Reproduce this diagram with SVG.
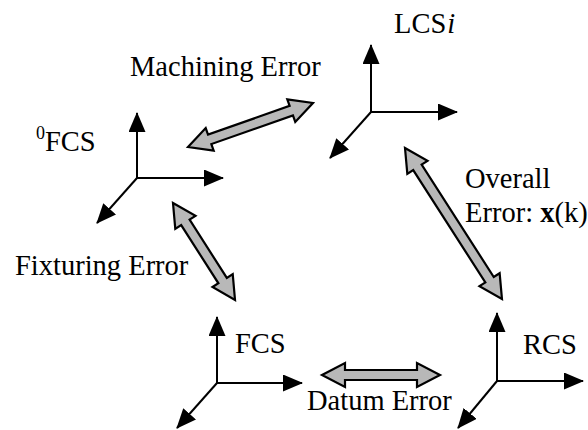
<svg xmlns="http://www.w3.org/2000/svg" width="588" height="430" viewBox="0 0 588 430">
<style>
text{font-family:"Liberation Serif","Times New Roman",serif;font-size:28.5px;fill:#000}
.ax{stroke:#000;stroke-width:2;fill:none;marker-end:url(#ah)}
.da{fill:#b8b8b8;stroke:#000;stroke-width:2.2;stroke-linejoin:miter}
</style>
<defs>
<marker id="ah" markerUnits="userSpaceOnUse" markerWidth="20" markerHeight="17" refX="19" refY="8.5" orient="auto" viewBox="0 0 20 17">
<path d="M0,0 L20,8.5 L0,17 Z" fill="#000"/>
</marker>
</defs>
<g id="fcs0">
<path class="ax" d="M137,178 L137,113"/>
<path class="ax" d="M137,178 L223,178"/>
<path class="ax" d="M137,178 L97,223"/>
<text x="36" y="151"><tspan font-size="18" dy="-12">0</tspan><tspan dy="12">FCS</tspan></text>
</g>
<g id="lcs">
<path class="ax" d="M371,112 L371,45"/>
<path class="ax" d="M371,112 L457,112"/>
<path class="ax" d="M371,112 L330,158"/>
<text x="394" y="33">LCS<tspan font-style="italic" dx="1">i</tspan></text>
</g>
<g id="fcs">
<path class="ax" d="M217,383 L217,317"/>
<path class="ax" d="M217,383 L302,383"/>
<path class="ax" d="M217,383 L177,428"/>
<text x="235" y="353">FCS</text>
</g>
<g id="rcs">
<path class="ax" d="M497,381 L497,313"/>
<path class="ax" d="M497,381 L583,381"/>
<path class="ax" d="M497,381 L458,428"/>
<text x="523" y="354">RCS</text>
</g>
<g id="connectors">
<path class="da" transform="translate(188,147) rotate(-19.4)" d="M0,0 L23,-12 L23,-5 L109.5,-5 L109.5,-12 L132.5,0 L109.5,12 L109.5,5 L23,5 L23,12 Z"/>
<path class="da" transform="translate(173,203) rotate(57.4)" d="M0,0 L23,-12 L23,-5 L92.1,-5 L92.1,-12 L115.1,0 L92.1,12 L92.1,5 L23,5 L23,12 Z"/>
<path class="da" transform="translate(405,148) rotate(57.3)" d="M0,0 L23,-12 L23,-5 L156.5,-5 L156.5,-12 L179.5,0 L156.5,12 L156.5,5 L23,5 L23,12 Z"/>
<path class="da" transform="translate(322,375)" d="M0,0 L23,-12 L23,-5 L95,-5 L95,-12 L118,0 L95,12 L95,5 L23,5 L23,12 Z"/>
<text x="130" y="76">Machining Error</text>
<text x="15" y="275">Fixturing Error</text>
<text x="465" y="188">Overall</text>
<text x="465" y="222">Error: <tspan font-weight="bold">x</tspan>(k)</text>
<text x="307" y="410">Datum Error</text>
</g>
</svg>
